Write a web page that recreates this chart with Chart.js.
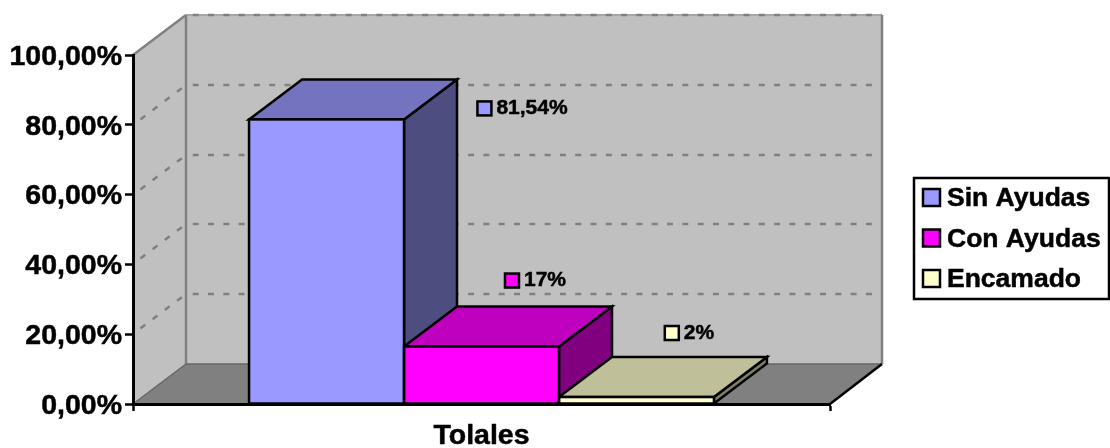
<!DOCTYPE html>
<html>
<head>
<meta charset="utf-8">
<title>Tolales</title>
<script src="https://cdn.jsdelivr.net/npm/chart.js@4"></script>
<style>
    html, body { margin: 0; padding: 0; background: #fff; overflow: hidden; }
    canvas { display: block; }
</style>
</head>
<body>
<canvas id="chart" width="1110" height="448"></canvas>
<script>
const categories = ['Tolales'];
const seriesNames = ['Sin Ayudas', 'Con Ayudas', 'Encamado'];
const seriesValues = [81.54, 16.46, 2];
const seriesLabels = ['81,54%', '17%', '2%'];
const yTickLabels = ['0,00%', '20,00%', '40,00%', '60,00%', '80,00%', '100,00%'];

const frontColors = ['#9999FF', '#FF00FF', '#FFFFCC'];
const topColors = ['#7373BF', '#BF00BF', '#BFBF99'];
const sideColors = ['#4D4D80', '#800080', '#808066'];

const FONT = '"Liberation Sans", Arial, sans-serif';
const DEPTH_X = 53;
const DEPTH_Y = 40;
const EDGE = 2.5;
const DASH = [6, 9.3];

// label position relative to the top centre of each bar (moved by hand in the original)
const labelShift = [[196, -11], [54, -66], [53, -64]];

function poly(ctx, pts, fill, stroke, width) {
    ctx.beginPath();
    pts.forEach((p, i) => i ? ctx.lineTo(p[0], p[1]) : ctx.moveTo(p[0], p[1]));
    ctx.closePath();
    if (fill) { ctx.fillStyle = fill; ctx.fill(); }
    if (stroke) { ctx.strokeStyle = stroke; ctx.lineWidth = width; ctx.stroke(); }
}

function line(ctx, x1, y1, x2, y2, color, width, dash, offset) {
    ctx.beginPath();
    ctx.setLineDash(dash || []);
    ctx.lineDashOffset = offset || 0;
    ctx.moveTo(x1, y1);
    ctx.lineTo(x2, y2);
    ctx.strokeStyle = color;
    ctx.lineWidth = width;
    ctx.stroke();
    ctx.setLineDash([]);
}

function boldText(ctx, text, x, y) {
    ctx.fillStyle = '#000';
    ctx.strokeStyle = '#000';
    ctx.lineWidth = 0.5;
    ctx.fillText(text, x, y);
    ctx.strokeText(text, x, y);
}

// back wall, side wall, floor and the dotted gridlines
const wallsPlugin = {
    id: 'walls',
    beforeDraw(chart) {
        const ctx = chart.ctx;
        const { left, right, top, bottom } = chart.chartArea;
        const backRight = right + DEPTH_X - 1;
        ctx.save();
        poly(ctx, [[left, top], [left + DEPTH_X, top - DEPTH_Y], [left + DEPTH_X, bottom - DEPTH_Y], [left, bottom]], '#C0C0C0');
        poly(ctx, [[left + DEPTH_X, top - DEPTH_Y], [backRight, top - DEPTH_Y], [backRight, bottom - DEPTH_Y], [left + DEPTH_X, bottom - DEPTH_Y]], '#C0C0C0');
        poly(ctx, [[left, bottom], [left + DEPTH_X, bottom - DEPTH_Y], [backRight, bottom - DEPTH_Y], [right, bottom]], '#808080');

        line(ctx, left + DEPTH_X, top - DEPTH_Y, backRight, top - DEPTH_Y, '#A6A6A6', 2);
        chart.scales.y.ticks.forEach(t => {
            const y = Math.round(chart.scales.y.getPixelForValue(t.value));
            if (t.value === 0) return;
            if (t.value < 100) line(ctx, left, y, left + DEPTH_X, y - DEPTH_Y, '#808080', EDGE, DASH, 6);
            line(ctx, left + DEPTH_X, y - DEPTH_Y, backRight, y - DEPTH_Y, '#808080', EDGE, DASH, 8.6);
        });

        line(ctx, left, top, left + DEPTH_X, top - DEPTH_Y, '#808080', EDGE);
        line(ctx, left + DEPTH_X, top - DEPTH_Y, left + DEPTH_X, bottom - DEPTH_Y, '#808080', EDGE);
        line(ctx, backRight, top - DEPTH_Y, backRight, bottom - DEPTH_Y, '#808080', EDGE);
        line(ctx, left, bottom, left + DEPTH_X, bottom - DEPTH_Y, '#666666', 1.5);
        line(ctx, left + DEPTH_X, bottom - DEPTH_Y, backRight, bottom - DEPTH_Y, '#666666', 1.5);
        line(ctx, right, bottom, backRight, bottom - DEPTH_Y, '#000', EDGE);
        ctx.restore();
    }
};

// top and side faces of the bars, from the bar elements chart.js laid out
const barDepthPlugin = {
    id: 'barDepth',
    beforeDatasetsDraw(chart) {
        const ctx = chart.ctx;
        ctx.save();
        seriesNames.forEach((name, i) => {
            const bar = chart.getDatasetMeta(i).data[0];
            const l = bar.x - bar.width / 2;
            const r = bar.x + bar.width / 2;
            const t = bar.y;
            const b = bar.base;
            poly(ctx, [[r, t], [r + DEPTH_X, t - DEPTH_Y], [r + DEPTH_X, b - DEPTH_Y], [r, b]], sideColors[i], '#000', EDGE);
            poly(ctx, [[l, t], [l + DEPTH_X, t - DEPTH_Y], [r + DEPTH_X, t - DEPTH_Y], [r, t]], topColors[i], '#000', EDGE);
        });
        ctx.restore();
    },
    afterDatasetsDraw(chart) {
        // outline centred on the bar edge, chart.js would inset it
        const ctx = chart.ctx;
        ctx.save();
        ctx.strokeStyle = '#000';
        ctx.lineWidth = EDGE;
        seriesNames.forEach((name, i) => {
            const bar = chart.getDatasetMeta(i).data[0];
            ctx.strokeRect(bar.x - bar.width / 2, bar.y, bar.width, bar.base - bar.y);
        });
        ctx.restore();
    }
};

// data labels with their legend key, and the boxed legend
const labelsPlugin = {
    id: 'labels',
    afterDraw(chart) {
        const ctx = chart.ctx;
        ctx.save();
        ctx.textBaseline = 'middle';
        ctx.textAlign = 'left';

        ctx.font = 'bold 21px ' + FONT;
        seriesLabels.forEach((text, i) => {
            const bar = chart.getDatasetMeta(i).data[0];
            const w = 14 + 5 + ctx.measureText(text).width;
            const x = bar.x + labelShift[i][0] - w / 2;
            const y = bar.y + labelShift[i][1];
            ctx.lineWidth = EDGE;
            ctx.strokeStyle = '#000';
            ctx.fillStyle = frontColors[i];
            ctx.fillRect(x, y - 7, 14, 14);
            ctx.strokeRect(x, y - 7, 14, 14);
            boldText(ctx, text, x + 19, y);
        });

        ctx.fillStyle = '#fff';
        ctx.strokeStyle = '#000';
        ctx.lineWidth = EDGE;
        ctx.fillRect(914, 178, 195, 121);
        ctx.strokeRect(914, 178, 195, 121);
        ctx.font = 'bold 26.5px ' + FONT;
        seriesNames.forEach((name, i) => {
            const y = 198 + i * 40.5;
            ctx.fillStyle = frontColors[i];
            ctx.lineWidth = EDGE;
            ctx.strokeStyle = '#000';
            ctx.fillRect(923, y - 9, 17, 17);
            ctx.strokeRect(923, y - 9, 17, 17);
            boldText(ctx, name, 947, y + 1);
        });
        ctx.restore();
    }
};

new Chart(document.getElementById('chart'), {
    type: 'bar',
    data: {
        labels: categories,
        datasets: seriesNames.map((name, i) => ({
            label: name,
            data: [seriesValues[i]],
            backgroundColor: frontColors[i],
            borderWidth: 0,
            categoryPercentage: 0.667,
            barPercentage: 1
        }))
    },
    options: {
        responsive: false,
        animation: false,
        layout: { padding: { left: 0, right: 280, top: 55, bottom: 0 } },
        plugins: {
            legend: { display: false },
            tooltip: { enabled: false }
        },
        scales: {
            x: {
                afterFit(scale) { scale.height = 44; },
                grid: { drawOnChartArea: false, drawTicks: true, tickLength: 7, tickColor: '#000', tickWidth: 2.5 },
                border: { color: '#000', width: 3 },
                ticks: {
                    color: '#000',
                    padding: 8,
                    textStrokeColor: '#000',
                    textStrokeWidth: 0.5,
                    font: { family: FONT, size: 28.5, weight: 'bold' }
                }
            },
            y: {
                min: 0,
                max: 100,
                afterFit(scale) { scale.width = 133; },
                grid: { drawOnChartArea: false, drawTicks: true, tickLength: 8, tickColor: '#000', tickWidth: 2.5 },
                border: { color: '#000', width: 3 },
                ticks: {
                    stepSize: 20,
                    color: '#000',
                    padding: 3,
                    textStrokeColor: '#000',
                    textStrokeWidth: 0.5,
                    // blank first line at 4px line height pushes the text 2px down onto the tick
                    font: { family: FONT, size: 28.5, weight: 'bold', lineHeight: '4px' },
                    callback: (value, index) => ['', yTickLabels[index]]
                }
            }
        }
    },
    plugins: [wallsPlugin, barDepthPlugin, labelsPlugin]
});
</script>
</body>
</html>
